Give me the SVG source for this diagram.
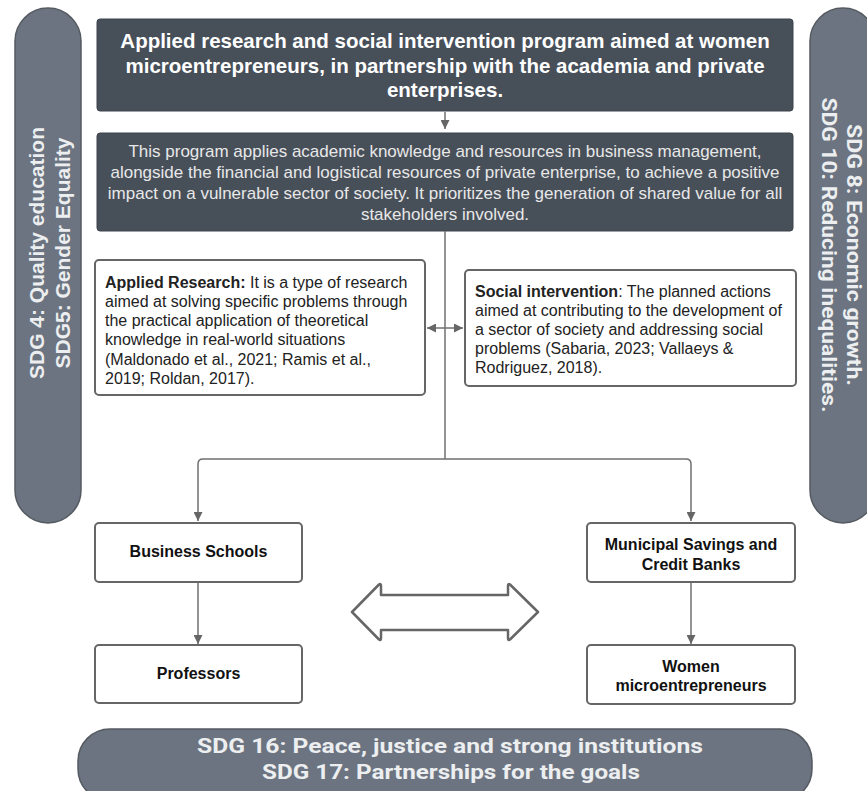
<svg xmlns="http://www.w3.org/2000/svg" width="867" height="791" viewBox="0 0 867 791">
<defs>
<style>
.dark{fill:#474f59;stroke:#3d444d;stroke-width:1}
.pill{fill:#6b7480;stroke:#555a61;stroke-width:1.5}
.wbox{fill:#ffffff;stroke:#666666;stroke-width:2}
.ttl{font-family:"Liberation Sans",Arial,sans-serif;font-weight:bold;font-size:20.5px;fill:#ffffff;text-anchor:middle}
.desc{font-family:"Liberation Sans",Arial,sans-serif;font-size:17px;fill:#e8e8e8;text-anchor:middle}
.body{font-family:"Liberation Sans",Arial,sans-serif;font-size:16px;fill:#222222}
.lbl{font-family:"Liberation Sans",Arial,sans-serif;font-weight:bold;font-size:16px;fill:#111111;text-anchor:middle}
.sdgL{font-family:"Liberation Sans",Arial,sans-serif;font-weight:bold;font-size:21px;fill:#eceef0;text-anchor:middle}
.sdgR{font-family:Roboto,"Liberation Sans",sans-serif;font-weight:bold;font-size:20px;fill:#eceef0;text-anchor:middle}
.conn{fill:none;stroke:#707070;stroke-width:1.5}
</style>
<marker id="ah" viewBox="0 0 10 10" refX="10" refY="5" markerWidth="10" markerHeight="9" markerUnits="userSpaceOnUse" orient="auto-start-reverse">
<path d="M0,0 L10,5 L0,10 z" fill="#666666"/>
</marker>
</defs>

<g id="sdg-left">
<rect class="pill" x="15" y="8" width="66" height="515" rx="33"/>
<text class="sdgL" transform="translate(44,253) rotate(-90)">SDG 4: Quality education</text>
<text class="sdgL" transform="translate(70,253) rotate(-90)">SDG5: Gender Equality</text>
</g>

<g id="sdg-right">
<rect class="pill" x="810" y="8" width="66" height="515" rx="33"/>
<text class="sdgR" transform="translate(847,255) rotate(90)" textLength="262" lengthAdjust="spacingAndGlyphs">SDG 8: Economic growth.</text>
<text class="sdgR" transform="translate(822,255) rotate(90)" textLength="315" lengthAdjust="spacingAndGlyphs">SDG 10: Reducing inequalities.</text>
</g>

<g id="sdg-bottom">
<rect class="pill" x="78" y="729" width="734" height="72" rx="32"/>
<text class="sdgR" x="450" y="753" font-size="22" textLength="506" lengthAdjust="spacingAndGlyphs">SDG 16: Peace, justice and strong institutions</text>
<text class="sdgR" x="451" y="779" font-size="22" textLength="378" lengthAdjust="spacingAndGlyphs">SDG 17: Partnerships for the goals</text>
</g>

<g id="program">
<rect class="dark" x="97" y="19" width="696" height="92" rx="3"/>
<text class="ttl" x="445" y="48">Applied research and social intervention program aimed at women</text>
<text class="ttl" x="445" y="72.5">microentrepreneurs, in partnership with the academia and private</text>
<text class="ttl" x="445" y="97">enterprises.</text>
</g>

<g id="description">
<rect class="dark" x="97" y="133" width="696" height="98" rx="3"/>
<text class="desc" x="445" y="156.5">This program applies academic knowledge and resources in business management,</text>
<text class="desc" x="445" y="177.5">alongside the financial and logistical resources of private enterprise, to achieve a positive</text>
<text class="desc" x="445" y="198.5">impact on a vulnerable sector of society. It prioritizes the generation of shared value for all</text>
<text class="desc" x="445" y="219.5">stakeholders involved.</text>
</g>

<g id="applied-research">
<rect class="wbox" x="95" y="260" width="330" height="135" rx="4"/>
<text class="body" x="105" y="287.5"><tspan font-weight="bold">Applied Research:</tspan> It is a type of research</text>
<text class="body" x="105" y="306.8">aimed at solving specific problems through</text>
<text class="body" x="105" y="326.1">the practical application of theoretical</text>
<text class="body" x="105" y="345.4">knowledge in real-world situations</text>
<text class="body" x="105" y="364.7">(Maldonado et al., 2021; Ramis et al.,</text>
<text class="body" x="105" y="384">2019; Roldan, 2017).</text>
</g>

<g id="social-intervention">
<rect class="wbox" x="465" y="270" width="331" height="116" rx="4"/>
<text class="body" x="475" y="296.5"><tspan font-weight="bold">Social intervention</tspan>: The planned actions</text>
<text class="body" x="475" y="315.5">aimed at contributing to the development of</text>
<text class="body" x="475" y="334.5">a sector of society and addressing social</text>
<text class="body" x="475" y="353.5">problems (Sabaria, 2023; Vallaeys &amp;</text>
<text class="body" x="475" y="372.5">Rodriguez, 2018).</text>
</g>

<g id="business-schools">
<rect class="wbox" x="95" y="523" width="207" height="59" rx="4"/>
<text class="lbl" x="198.5" y="557">Business Schools</text>
</g>

<g id="professors">
<rect class="wbox" x="95" y="645" width="207" height="58" rx="4"/>
<text class="lbl" x="198.5" y="679">Professors</text>
</g>

<g id="banks">
<rect class="wbox" x="587" y="523" width="208" height="59" rx="4"/>
<text class="lbl" x="691" y="550">Municipal Savings and</text>
<text class="lbl" x="691" y="569.5">Credit Banks</text>
</g>

<g id="women">
<rect class="wbox" x="587" y="645" width="208" height="59" rx="4"/>
<text class="lbl" x="691" y="672">Women</text>
<text class="lbl" x="691" y="691">microentrepreneurs</text>
</g>

<g id="exchange-arrow">
<path d="M352,612 L379,584.5 Q381,583 381,586 L381,595 L508,595 L508,586 Q508,583 510,584.5 L538,612 L510,639.5 Q508,641 508,638 L508,630 L381,630 L381,638 Q381,641 379,639.5 Z" fill="#ffffff" stroke="#666666" stroke-width="2.5" stroke-linejoin="round"/>
</g>

<g id="connectors">
<path class="conn" d="M445,112 L445,129" marker-end="url(#ah)"/>
<path class="conn" d="M445,231 L445,459"/>
<path class="conn" d="M445,459 L203,459 Q198,459 198,464 L198,521" marker-end="url(#ah)"/>
<path class="conn" d="M445,459 L686,459 Q691,459 691,464 L691,521" marker-end="url(#ah)"/>
<path class="conn" d="M427,328 L463,328" marker-start="url(#ah)" marker-end="url(#ah)"/>
<path class="conn" d="M198,583 L198,644" marker-end="url(#ah)"/>
<path class="conn" d="M691,583 L691,644" marker-end="url(#ah)"/>
</g>
</svg>
